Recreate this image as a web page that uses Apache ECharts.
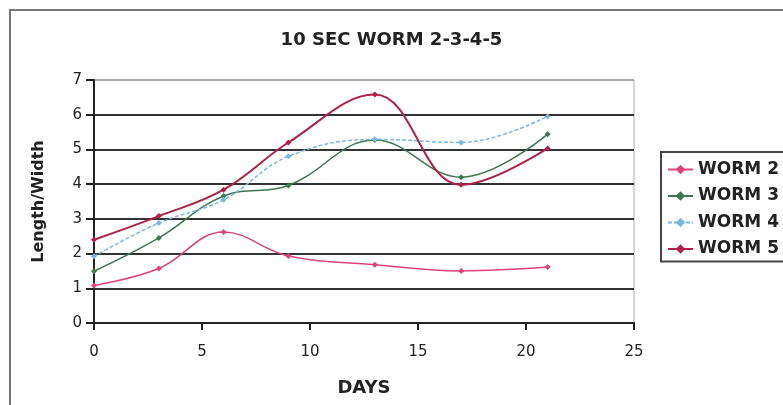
<!DOCTYPE html>
<html>
<head>
<meta charset="utf-8">
<script src="https://cdn.jsdelivr.net/npm/echarts@6/dist/echarts.min.js"></script>
<style>
	html, body { margin: 0; padding: 0; background: #fff; }
	#chart { width: 783px; height: 405px; }
</style>
</head>
<body>
<div id="chart"></div>
<script>
const days = [0, 3, 6, 9, 13, 17, 21];
const worm2 = [1.08, 1.57, 2.62, 1.93, 1.68, 1.5, 1.61];
const worm3 = [1.49, 2.45, 3.66, 3.96, 5.27, 4.2, 5.44];
const worm4 = [1.92, 2.88, 3.55, 4.8, 5.29, 5.2, 5.95];
const worm5 = [2.4, 3.08, 3.84, 5.2, 6.58, 3.98, 5.03];
const seriesNames = ['WORM 2', 'WORM 3', 'WORM 4', 'WORM 5'];
const seriesValues = [worm2, worm3, worm4, worm5];

const font = 'DejaVu Sans';
const styles = [
	{ color: '#dc4479', width: 1.5, type: 'solid' },
	{ color: '#3f7650', width: 1.5, type: 'solid' },
	{ color: '#7db6e2', width: 1.5, type: [4, 2] },
	{ color: '#ad2246', width: 2, type: 'solid' },
];

const chart = echarts.init(document.getElementById('chart'));
chart.setOption({
	backgroundColor: '#fff',
	animation: false,
	title: {
		text: '10 SEC WORM 2-3-4-5',
		left: 'center',
		top: 26,
		textStyle: { fontFamily: font, fontSize: 18, fontWeight: 'bold', color: '#222' },
	},
	graphic: [{
		type: 'rect',
		shape: { x: 10, y: 10, width: 800, height: 420 },
		style: { fill: 'none', stroke: '#777', lineWidth: 2 },
		silent: true,
	}],
	legend: {
		orient: 'vertical',
		left: 661,
		top: 152,
		padding: [9, 40, 4, 6],
		itemWidth: 25,
		itemHeight: 12,
		itemGap: 9.5,
		borderColor: '#444',
		borderWidth: 2,
		textStyle: { fontFamily: font, fontSize: 17, fontWeight: 'bold', color: '#222' },
		data: seriesNames,
	},
	grid: {
		left: 94,
		right: 149,
		top: 80,
		bottom: 82,
		show: true,
		borderColor: '#aaa',
		borderWidth: 1,
	},
	xAxis: {
		type: 'value',
		min: 0,
		max: 25,
		interval: 5,
		name: 'DAYS',
		nameLocation: 'middle',
		nameGap: 56,
		nameTextStyle: { fontFamily: font, fontSize: 18, fontWeight: 'bold', color: '#222' },
		axisLine: { lineStyle: { color: '#222', width: 2 } },
		axisTick: { length: 7, lineStyle: { color: '#222', width: 2 } },
		axisLabel: { margin: 22, fontFamily: font, fontSize: 15, color: '#222' },
		splitLine: { show: false },
	},
	yAxis: {
		type: 'value',
		min: 0,
		max: 7,
		interval: 1,
		name: 'Length/Width',
		nameLocation: 'middle',
		nameGap: 47,
		nameTextStyle: { fontFamily: font, fontSize: 16, fontWeight: 'bold', color: '#222' },
		axisLine: { show: true, lineStyle: { color: '#222', width: 2 } },
		axisTick: { show: true, length: 8, lineStyle: { color: '#222', width: 2 } },
		axisLabel: { margin: 12, fontFamily: font, fontSize: 15, color: '#222' },
		splitLine: {
			show: true,
			lineStyle: {
				color: ['#222', '#333', '#333', '#333', '#333', '#333', '#333', '#aaa'],
				width: 2,
			},
		},
	},
	series: seriesValues.map((vals, i) => ({
		name: seriesNames[i],
		type: 'line',
		smooth: 0.4,
		data: days.map((d, j) => [d, vals[j]]),
		symbol: 'diamond',
		symbolSize: 6,
		itemStyle: { color: styles[i].color },
		lineStyle: { color: styles[i].color, width: styles[i].width, type: styles[i].type },
	})),
});
</script>
</body>
</html>
